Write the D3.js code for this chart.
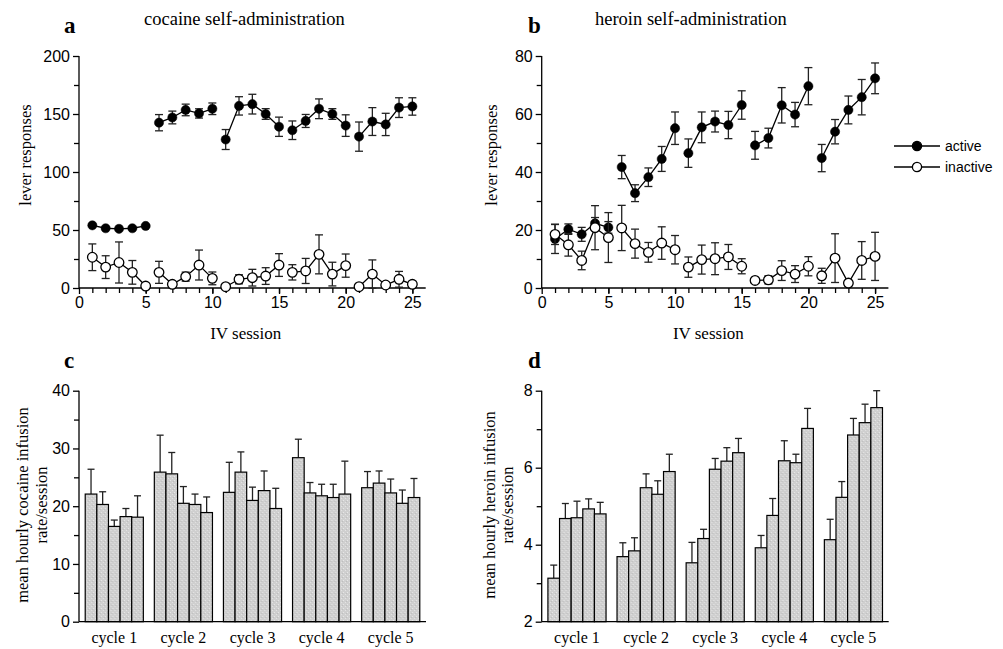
<!DOCTYPE html>
<html>
<head>
	<meta charset="utf-8">
	<title>Cocaine and heroin self-administration</title>
	<script src="https://cdn.jsdelivr.net/npm/d3@7"></script>
	<style type="text/css">
	body{ margin:0; background:#fff; }
	svg{ display:block; }
	.tick-num{ font-family:"Liberation Sans", Arial, sans-serif; font-size:16px; }
	.serif{ font-family:"Liberation Serif", "Times New Roman", serif; }
	</style>
</head>
<body>
<div id="fig"></div>
<script type="text/javascript">

// sessions 1..25, five cycles of five sessions
var sessions = [1,2,3,4,5, 6,7,8,9,10, 11,12,13,14,15, 16,17,18,19,20, 21,22,23,24,25];
var sessionCycle = [1,1,1,1,1, 2,2,2,2,2, 3,3,3,3,3, 4,4,4,4,4, 5,5,5,5,5];

// panel a - cocaine lever responses
var cocActive = [54,51.5,51,51.5,53.5, 142.5,147,153.5,150.5,154.5, 128,157,158.5,150,139, 136,144,154.5,150,140, 130.5,143.5,141,155.5,156.5];
var cocActiveSem = [1,1,1,1,1, 7,5.5,5,4,5, 8.6,7.9,8.5,4.6,8.3, 8,5.6,8.5,4.6,9.3, 12.6,12,9.6,8.5,7.5];
var cocInactive = [26.5,18,22,13.5,1.7, 13.5,3.2,9.8,19.8,8.3, 1.1,7.5,8.9,10.3,19.8, 13.5,14.7,29,12,19.3, 1.1,12,2.6,7.5,3.2];
var cocInactiveSem = [11.5,9.8,17.7,10.2,0.5, 9.5,1,3.9,12.9,5.5, 0.5,3.9,7.2,7.2,9.8, 6.6,10.8,16.8,10.2,10, 0.5,12.2,1,6.8,2.5];

// panel b - heroin lever responses
var herActive = [16.9,20.3,18.5,22.3,20.9, 41.7,32.7,38.2,44.5,55.1, 46.5,55.4,57.4,56.2,63.1, 49.2,51.7,63,59.8,69.6, 44.8,53.9,61.4,65.8,72.3];
var herActiveSem = [5,1.8,2.4,2,2, 4,2.9,3.2,4.3,5.6, 4.9,5.3,3.6,4.7,4.9, 4.8,3.4,6.1,4.2,6.4, 4.7,4.2,4.8,6.1,5.3];
var herInactive = [18.5,14.9,9.5,20.8,17.4, 20.7,15.3,12.3,15.5,13.2, 7.2,9.8,10.1,10.7,7.5, 2.6,2.8,6,4.8,7.5, 4.2,10.3,1.7,9.5,10.9];
var herInactiveSem = [3.5,3.9,3.2,7.6,8.6, 7.8,5,3.4,5.6,4.9, 3.5,5,5.5,4.3,2.6, 0.6,1.4,3.4,2.9,3.3, 2.6,8.4,0.6,6.5,8.3];

// panels c, d - mean hourly infusion rate per session, 5 sessions per cycle
var cycles = ['cycle 1','cycle 2','cycle 3','cycle 4','cycle 5'];
var cocRate = [22.1,20.3,16.5,18.2,18.1, 25.9,25.6,20.5,20.3,18.9, 22.4,25.9,21,22.7,19.6, 28.4,22.3,21.8,21.5,22.1, 23.2,24,22.3,20.5,21.5];
var cocRateSem = [4.3,2.2,1.1,1.4,3.7, 6.4,3.7,2.9,1.8,2.7, 5.2,3.5,2.3,3.4,3.5, 3.2,1.8,2.0,2.3,5.7, 2.8,2.1,2.4,2.3,3.3];
var herRate = [3.13,4.68,4.70,4.93,4.80, 3.69,3.84,5.48,5.31,5.90, 3.53,4.16,5.96,6.17,6.39, 3.92,4.76,6.18,6.13,7.02, 4.13,5.23,6.85,7.17,7.56];
var herRateSem = [0.34,0.39,0.43,0.26,0.30, 0.36,0.34,0.36,0.35,0.45, 0.53,0.24,0.28,0.35,0.37, 0.32,0.44,0.52,0.22,0.52, 0.53,0.41,0.43,0.48,0.44];

var svg = d3.select('#fig').append('svg')
	.attr('width', 1003)
	.attr('height', 649);

// stippled grey fill of the bars
var pat = svg.append('defs').append('pattern')
	.attr('id','stipple')
	.attr('width',4).attr('height',4)
	.attr('patternUnits','userSpaceOnUse');
pat.append('rect').attr('width',4).attr('height',4).attr('fill','#cfcfcf');
pat.append('rect').attr('x',0).attr('y',0).attr('width',1).attr('height',1).attr('fill','#e8e8e8');
pat.append('rect').attr('x',2).attr('y',2).attr('width',1).attr('height',1).attr('fill','#e4e4e4');
pat.append('rect').attr('x',3).attr('y',1).attr('width',1).attr('height',1).attr('fill','#bdbdbd');

function label(x, y, txt, size, bold, cls){
	return svg.append('text')
		.attr('class', cls || 'serif')
		.attr('x', x).attr('y', y)
		.attr('font-size', size)
		.attr('font-weight', bold ? 'bold' : 'normal')
		.text(txt);
}

function vlabel(x, y, txt, size){
	svg.append('text')
		.attr('class','serif')
		.attr('transform','translate('+x+','+y+') rotate(-90)')
		.attr('text-anchor','middle')
		.attr('font-size', size)
		.text(txt);
}

function yAxis(y, x0, major, minor){
	var g = svg.append('g')
		.attr('transform','translate('+x0+',0)');
	g.append('g')
		.call(d3.axisLeft(y).tickValues(minor).tickSize(5).tickFormat(''));
	g.append('g')
		.call(d3.axisLeft(y).tickValues(major).tickSize(6).tickPadding(3).tickFormat(d3.format('d')))
		.selectAll('text').attr('class','tick-num').attr('font-size',null).attr('font-family',null);
	g.selectAll('.domain').remove();
	g.append('line')
		.attr('x1',0).attr('x2',0)
		.attr('y1', y.range()[0]).attr('y2', y.range()[1]);
	g.selectAll('line').attr('stroke','#000').attr('stroke-width',1.3);
	return g;
}

function linePanel(x0, series, yMax, yMajor, yMinor){
	var x = d3.scaleLinear().domain([0,26]).range([x0, x0 + 346.7]);
	var y = d3.scaleLinear().domain([0,yMax]).range([288,56]);

	yAxis(y, x0, yMajor, yMinor);

	var gx = svg.append('g').attr('transform','translate(0,288)');
	gx.append('g').call(d3.axisBottom(x).tickValues(sessions).tickSize(5).tickFormat(''));
	gx.append('g').call(d3.axisBottom(x).tickValues([0,5,10,15,20,25]).tickSize(6).tickPadding(3))
		.selectAll('text').attr('class','tick-num').attr('font-size',null).attr('font-family',null);
	gx.selectAll('.domain').remove();
	gx.append('line').attr('x1', x.range()[0]).attr('x2', x.range()[1]);
	gx.selectAll('line').attr('stroke','#000').attr('stroke-width',1.3);

	series.forEach(function(s){
		var pts = sessions.map(function(d, i){
			return {s:d, c:sessionCycle[i], v:s.values[i], e:s.sem[i]};
		});
		var g = svg.append('g');

		var eb = g.selectAll('g.err').data(pts).enter().append('g').attr('class','err')
			.attr('stroke','#222').attr('stroke-width',1.3);
		eb.append('line')
			.attr('x1', function(d){ return x(d.s); })
			.attr('x2', function(d){ return x(d.s); })
			.attr('y1', function(d){ return y(d.v - d.e); })
			.attr('y2', function(d){ return y(d.v + d.e); });
		[-1,1].forEach(function(sign){
			eb.append('line')
				.attr('x1', function(d){ return x(d.s) - 4; })
				.attr('x2', function(d){ return x(d.s) + 4; })
				.attr('y1', function(d){ return y(d.v + sign*d.e); })
				.attr('y2', function(d){ return y(d.v + sign*d.e); });
		});

		var line = d3.line().x(function(d){ return x(d.s); }).y(function(d){ return y(d.v); });
		d3.groups(pts, function(d){ return d.c; }).forEach(function(grp){
			g.append('path')
				.attr('d', line(grp[1]))
				.attr('fill','none')
				.attr('stroke','#000')
				.attr('stroke-width',1.3);
		});

		g.selectAll('circle').data(pts).enter().append('circle')
			.attr('cx', function(d){ return x(d.s); })
			.attr('cy', function(d){ return y(d.v); })
			.attr('r', s.filled ? 4.6 : 4.8)
			.attr('fill', s.filled ? '#000' : '#fff')
			.attr('stroke','#000')
			.attr('stroke-width', s.filled ? 0.5 : 1.3);
	});

	label(x(12.5), 339, 'IV session', 17).attr('text-anchor','middle');
	return x;
}

function barPanel(x0, values, sem, yMin, yMax, yMajor, yMinor){
	var x = d3.scaleBand().domain(cycles).range([x0, x0 + 347]).paddingInner(0.159).paddingOuter(0.09);
	var xi = d3.scaleBand().domain([0,1,2,3,4]).range([0, x.bandwidth()]);
	var y = d3.scaleLinear().domain([yMin,yMax]).range([621.7,390.7]);

	var bars = values.map(function(v, i){
		return {cycle:cycles[Math.floor(i/5)], k:i % 5, v:v, e:sem[i]};
	});

	var g = svg.append('g');
	var b = g.selectAll('g.bar').data(bars).enter().append('g').attr('class','bar')
		.attr('transform', function(d){ return 'translate('+(x(d.cycle) + xi(d.k))+',0)'; });
	b.append('line')
		.attr('x1', xi.bandwidth()/2).attr('x2', xi.bandwidth()/2)
		.attr('y1', function(d){ return y(d.v); })
		.attr('y2', function(d){ return y(d.v + d.e); })
		.attr('stroke','#222').attr('stroke-width',1.3);
	b.append('line')
		.attr('x1', xi.bandwidth()/2 - 3.5).attr('x2', xi.bandwidth()/2 + 3.5)
		.attr('y1', function(d){ return y(d.v + d.e); })
		.attr('y2', function(d){ return y(d.v + d.e); })
		.attr('stroke','#222').attr('stroke-width',1.3);
	b.append('rect')
		.attr('x', 0)
		.attr('y', function(d){ return y(d.v); })
		.attr('width', xi.bandwidth())
		.attr('height', function(d){ return y(yMin) - y(d.v); })
		.attr('fill','url(#stipple)')
		.attr('stroke','#000')
		.attr('stroke-width',1.2);

	yAxis(y, x0, yMajor, yMinor);
	svg.append('line')
		.attr('x1', x0).attr('x2', x0 + 347)
		.attr('y1', y(yMin)).attr('y2', y(yMin))
		.attr('stroke','#000').attr('stroke-width',1.3);

	svg.append('g').selectAll('text').data(cycles).enter().append('text')
		.attr('class','serif')
		.attr('x', function(d){ return x(d) + x.bandwidth()/2; })
		.attr('y', 643)
		.attr('text-anchor','middle')
		.attr('font-size',16)
		.text(function(d){ return d; });
}

// a
label(64, 33, 'a', 23, true);
label(144, 25, 'cocaine self-administration', 18.5);
linePanel(79, [
	{values:cocActive, sem:cocActiveSem, filled:true},
	{values:cocInactive, sem:cocInactiveSem, filled:false}
], 200, [0,50,100,150,200], [25,75,125,175]);
vlabel(31, 155, 'lever responses', 16.5);

// b
label(528, 33, 'b', 23, true);
label(595, 25, 'heroin self-administration', 18.5);
linePanel(541.7, [
	{values:herActive, sem:herActiveSem, filled:true},
	{values:herInactive, sem:herInactiveSem, filled:false}
], 80, [0,20,40,60,80], [10,30,50,70]);
vlabel(497, 155, 'lever responses', 16.5);

// legend
var legend = [{name:'active', filled:true}, {name:'inactive', filled:false}];
var lg = svg.append('g').selectAll('g').data(legend).enter().append('g')
	.attr('transform', function(d, i){ return 'translate(894,' + (146 + i*21) + ')'; });
lg.append('line').attr('x1',0).attr('x2',46).attr('stroke','#000').attr('stroke-width',1.3);
lg.append('circle').attr('cx',23).attr('r',4.6)
	.attr('fill', function(d){ return d.filled ? '#000' : '#fff'; })
	.attr('stroke','#000').attr('stroke-width',1.3);
lg.append('text').attr('x',51).attr('y',5)
	.style('font-family','"Liberation Sans", Arial, sans-serif')
	.style('font-size','14px')
	.text(function(d){ return d.name; });

// c
label(64, 368, 'c', 23, true);
barPanel(79, cocRate, cocRateSem, 0, 40, [0,10,20,30,40], [5,15,25,35]);
vlabel(28, 505, 'mean hourly cocaine infusion', 16.5);
vlabel(47, 505, 'rate/session', 16.5);

// d
label(528, 368, 'd', 23, true);
barPanel(541.7, herRate, herRateSem, 2, 8, [2,4,6,8], [3,5,7]);
vlabel(495, 505, 'mean hourly heroin infusion', 16.5);
vlabel(513, 505, 'rate/session', 16.5);

</script>
</body>
</html>
